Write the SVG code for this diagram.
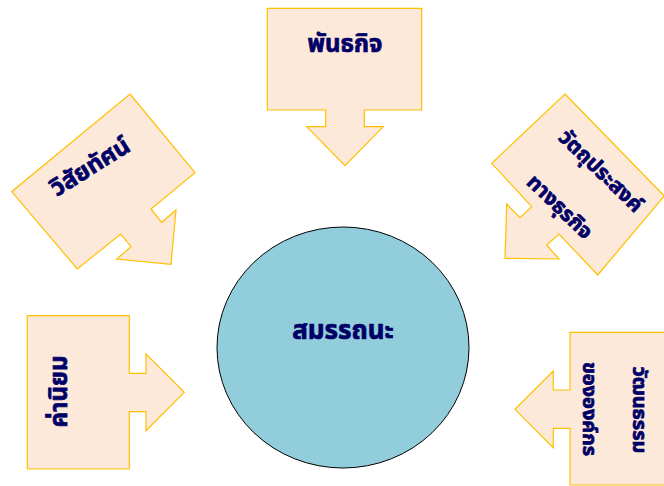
<svg xmlns="http://www.w3.org/2000/svg" width="664" height="486" viewBox="0 0 664 486">
<style>
.c{fill:#FDE9D9;stroke:#FFC000;stroke-width:1.2;stroke-linejoin:miter}
.t{font-family:"Noto Sans Thai","Noto Sans","DejaVu Sans",sans-serif;font-weight:bold;font-size:24px;fill:#000066;stroke:#000066;stroke-width:0.7;text-anchor:middle}
.s{font-size:21px}
.r{font-size:20px}
</style>
<rect width="664" height="486" fill="#FFFFFF"/>
<g id="mission">
<polygon class="c" points="267.3,8.3 421.7,8.3 421.7,110 364.3,110 364.3,126.7 383.3,126.7 345,165.7 306.7,126.7 325.7,126.7 325.7,110 267.3,110"/>
<text class="t" x="345" y="52">พันธกิจ</text>
</g>
<g id="vision">
<polygon class="c" points="130,94 195,172.7 151,209 161.7,222.3 176,210 171,264.3 116.7,259 131,246.7 120.7,234 77.3,269 11.7,191.7"/>
<text class="t" transform="translate(94.4,173.5) rotate(-32)">วิสัยทัศน์</text>
</g>
<g id="objectives">
<polygon class="c" points="565,94 664.3,196 597.7,275 559,234 546.7,245 559,259 505,258.3 506.7,204 520,217.7 531.7,206.7 491.7,163.3"/>
<text class="t s" transform="translate(596,176) rotate(44)">วัตถุประสงค์</text>
<text class="t s" transform="translate(555,212) rotate(44)">ทางธุรกิจ</text>
</g>
<g id="values">
<polygon class="c" points="27.3,315.7 129.3,315.7 129.3,373.3 146,373.3 146,354 184.3,392.3 146,430.7 146,411.7 129.3,411.7 129.3,469 27.3,469"/>
<text class="t" transform="translate(67,391.5) rotate(-90)">ค่านิยม</text>
</g>
<g id="culture">
<polygon class="c" points="676,332.3 570,332.3 570,390 553.3,390 553.3,371 515,409.3 553.3,447.7 553.3,428.3 570,428.3 570,485 676,485"/>
<text class="t r" transform="translate(633,410) rotate(90)">วัฒนธรรม</text>
<text class="t r" transform="translate(583,409) rotate(90)">ขององค์กร</text>
</g>
<g id="competency">
<ellipse cx="343" cy="347.5" rx="126" ry="120.5" fill="#92CDDC" stroke="#000000" stroke-width="1"/>
<text class="t" x="343" y="339" style="font-size:26px">สมรรถนะ</text>
</g>
<g id="connectors"></g>
</svg>
